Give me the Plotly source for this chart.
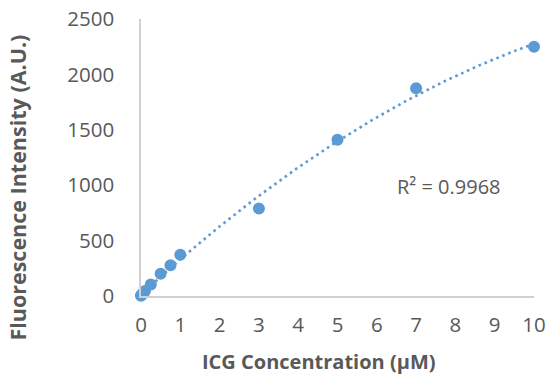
import numpy as np
import plotly.graph_objects as go

# ICG calibration data
concentration_um = [0, 0.01, 0.05, 0.1, 0.25, 0.5, 0.75, 1, 3, 5, 7, 10]
fluorescence_au = [2, 8, 22, 45, 104, 200, 277, 373, 790, 1410, 1875, 2250]
x_ticks = [0, 1, 2, 3, 4, 5, 6, 7, 8, 9, 10]
y_ticks = [0, 500, 1000, 1500, 2000, 2500]
r2_label = "R² = 0.9968"
x_title = "ICG Concentration (µM)"
y_title = "Fluorescence Intensity (A.U.)"

blue = "#5b9bd5"
grey_text = "#595959"
axis_grey = "#d0d0d0"
font_family = "Open Sans"

# second-order polynomial trendline
coef = np.polyfit(concentration_um, fluorescence_au, 2)
fit_x = np.linspace(min(concentration_um), max(concentration_um), 300)
fit_y = np.polyval(coef, fit_x)

fig = go.Figure()
fig.add_trace(go.Scatter(
    x=fit_x, y=fit_y, mode="lines",
    line=dict(color=blue, width=2.6, dash="2.6px,3.8px"),
    hoverinfo="skip", showlegend=False, cliponaxis=False,
))
fig.add_trace(go.Scatter(
    x=concentration_um, y=fluorescence_au, mode="markers",
    marker=dict(color=blue, size=12),
    showlegend=False, cliponaxis=False,
))

fig.add_annotation(
    x=7.83, y=986, xref="x", yref="y", text=r2_label, showarrow=False,
    font=dict(family=font_family, size=20, color=grey_text),
)

# axis titles placed as annotations so their centres sit where wanted
fig.add_annotation(
    x=0.4526, y=-0.236, xref="paper", yref="paper",
    text=f"<b>{x_title}</b>", showarrow=False,
    xanchor="center", yanchor="middle",
    font=dict(family=font_family, size=20, color=grey_text),
)
fig.add_annotation(
    x=-0.3145, y=0.3928, xref="paper", yref="paper",
    text=f"<b>{y_title}</b>", showarrow=False, textangle=-90,
    xanchor="center", yanchor="middle",
    font=dict(family=font_family, size=21.5, color=grey_text),
)

fig.update_layout(
    width=549, height=379,
    margin=dict(l=141, r=15, t=19, b=82.5),
    paper_bgcolor="white", plot_bgcolor="white",
    font=dict(family=font_family, color=grey_text),
)
fig.update_xaxes(
    range=[0, 10], tickvals=x_ticks, showgrid=False, zeroline=False,
    showline=True, linecolor=axis_grey, linewidth=1.5, automargin=False,
    ticks="", ticklabelstandoff=10,
    tickfont=dict(family=font_family, size=20.5, color=grey_text),
)
fig.update_yaxes(
    range=[0, 2500], tickvals=y_ticks, showgrid=False, zeroline=False,
    showline=True, linecolor=axis_grey, linewidth=1.5, automargin=False,
    ticks="", ticklabelstandoff=21,
    tickfont=dict(family=font_family, size=20.5, color=grey_text),
)

fig.write_html("out.html")
